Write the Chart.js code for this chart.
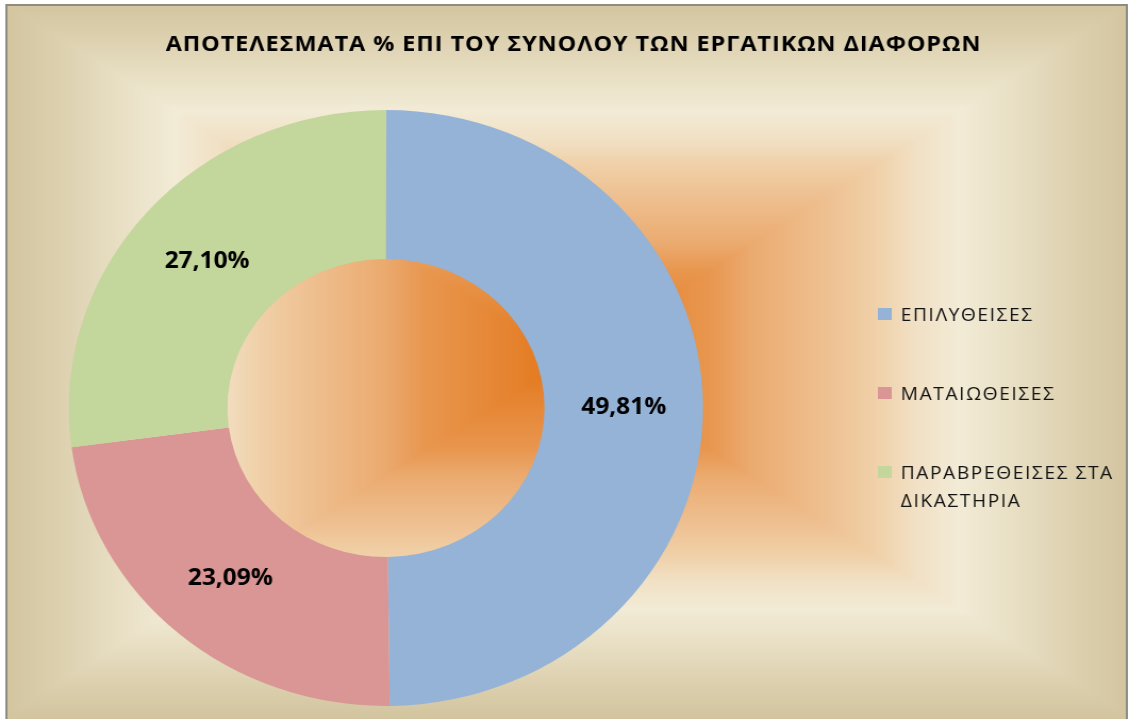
<!DOCTYPE html>
<html>
<head>
<meta charset="utf-8">
<script src="https://cdn.jsdelivr.net/npm/chart.js@4/dist/chart.umd.min.js"></script>
<style>
  html, body { margin: 0; padding: 0; background: #fff; overflow: hidden; }
  canvas { display: block; }
</style>
</head>
<body>
<!-- the reference is a little wider than tall, so the canvas bitmap is stretched -->
<canvas id="chart" width="1061" height="719" style="width:1129px;height:719px"></canvas>
<script>
const chartTitle = 'ΑΠΟΤΕΛΕΣΜΑΤΑ % ΕΠΙ ΤΟΥ ΣΥΝΟΛΟΥ ΤΩΝ ΕΡΓΑΤΙΚΩΝ ΔΙΑΦΟΡΩΝ';
const categories = ['ΕΠΙΛΥΘΕΙΣΕΣ', 'ΜΑΤΑΙΩΘΕΙΣΕΣ', 'ΠΑΡΑΒΡΕΘΕΙΣΕΣ ΣΤΑ ΔΙΚΑΣΤΗΡΙΑ'];
const legendLines = [['ΕΠΙΛΥΘΕΙΣΕΣ'], ['ΜΑΤΑΙΩΘΕΙΣΕΣ'], ['ΠΑΡΑΒΡΕΘΕΙΣΕΣ ΣΤΑ', 'ΔΙΚΑΣΤΗΡΙΑ']];
const percentages = [49.81, 23.09, 27.10];
const sliceColors = ['#95b3d7', '#d99694', '#c3d69b'];

// background: rectangular "from center" gradient, orange -> cream -> tan
const bgStops = [
  [0, '#e37516'], [0.1, '#e5832f'], [0.25, '#e8964e'], [0.33, '#ebab70'],
  [0.45, '#eebe8e'], [0.55, '#f0d0a8'], [0.62, '#f1e0c4'], [0.7, '#f2ebd6'],
  [0.8, '#e8dfc4'], [0.9, '#ddd1b0'], [1, '#d3c5a0']
];

function hexRgb(h) {
  return [1, 3, 5].map(i => parseInt(h.slice(i, i + 2), 16));
}

// build the gradient once, pixel by pixel (no seams on the diagonals)
function makeBackground(w, h) {
  const cx = 533, cy = 360, hw = 526, hh = 355;
  const stops = bgStops.map(s => [s[0], hexRgb(s[1])]);
  const off = document.createElement('canvas');
  off.width = w; off.height = h;
  const octx = off.getContext('2d');
  const img = octx.createImageData(w, h);
  for (let y = 0; y < h; y++) {
    for (let x = 0; x < w; x++) {
      let t = Math.max(Math.abs(x + 0.5 - cx) / hw, Math.abs(y + 0.5 - cy) / hh);
      if (t > 1) t = 1;
      let j = 1;
      while (j < stops.length - 1 && stops[j][0] < t) j++;
      const a = stops[j - 1], b = stops[j];
      const f = (t - a[0]) / (b[0] - a[0]);
      const o = (y * w + x) * 4;
      for (let c = 0; c < 3; c++) img.data[o + c] = a[1][c] + (b[1][c] - a[1][c]) * f;
      img.data[o + 3] = 255;
    }
  }
  octx.putImageData(img, 0, 0);
  return off;
}

let bgCanvas = null;

const framePlugin = {
  id: 'frame',
  beforeDraw(chart) {
    const ctx = chart.ctx, w = chart.width, h = chart.height;
    const fx = 6, fy = 5, fr = 1059;
    if (!bgCanvas) bgCanvas = makeBackground(w, h);
    ctx.save();
    ctx.fillStyle = '#fff';
    ctx.fillRect(0, 0, w, h);
    ctx.beginPath();
    ctx.rect(fx, fy, fr - fx, h - fy);
    ctx.clip();
    ctx.drawImage(bgCanvas, 0, 0);
    ctx.restore();
    ctx.save();
    ctx.strokeStyle = '#8e8b80';
    ctx.lineWidth = 2;
    ctx.beginPath();
    ctx.moveTo(fx, h);
    ctx.lineTo(fx, fy);
    ctx.lineTo(fr, fy);
    ctx.lineTo(fr, h);
    ctx.stroke();
    ctx.restore();
  }
};

const textPlugin = {
  id: 'texts',
  afterDatasetsDraw(chart) {
    const ctx = chart.ctx;
    ctx.save();
    ctx.fillStyle = '#000';
    ctx.textAlign = 'center';
    ctx.textBaseline = 'middle';

    // title
    ctx.font = 'bold 22px "Open Sans", sans-serif';
    ctx.letterSpacing = '0.9px';
    ctx.fillText(chartTitle, 539, 45);

    // value labels in the middle of each ring segment
    ctx.letterSpacing = '0px';
    ctx.font = 'bold 23px "Open Sans", sans-serif';
    const meta = chart.getDatasetMeta(0);
    meta.data.forEach((arc, i) => {
      const p = arc.getCenterPoint();
      const txt = percentages[i].toFixed(2).replace('.', ',') + '%';
      ctx.fillText(txt, p.x, p.y + 1);
    });

    // legend
    ctx.textAlign = 'left';
    ctx.font = '18px "Open Sans", sans-serif';
    ctx.letterSpacing = '1.5px';
    ctx.fillStyle = '#111';
    legendLines.forEach((lines, i) => {
      const y = 315.5 + i * 79;
      ctx.save();
      ctx.fillStyle = sliceColors[i];
      ctx.fillRect(825, y - 7.5, 13, 12);
      ctx.restore();
      lines.forEach((line, j) => ctx.fillText(line, 846.5, y + j * 28.5));
    });
    ctx.restore();
  }
};

const chart = new Chart(document.getElementById('chart'), {
  type: 'doughnut',
  data: {
    labels: categories,
    datasets: [{
      data: percentages,
      backgroundColor: sliceColors,
      borderWidth: 0
    }]
  },
  options: {
    responsive: false,
    animation: false,
    cutout: '50%',
    layout: { padding: { top: 110, bottom: 13, left: 64.7, right: 400.3 } },
    plugins: {
      legend: { display: false },
      title: { display: false },
      tooltip: { enabled: false }
    }
  },
  plugins: [framePlugin, textPlugin]
});
</script>
</body>
</html>
